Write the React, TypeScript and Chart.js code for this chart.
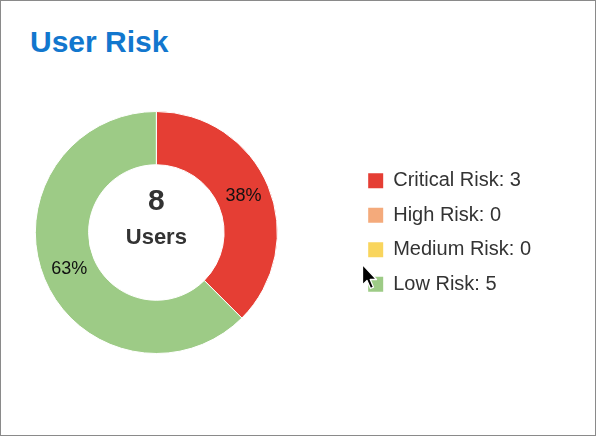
import React, { useEffect, useRef } from "react";
import { Chart, registerables } from "chart.js";
Chart.register(...registerables);

const titleText = "User Risk";
const categories = ["Critical Risk", "High Risk", "Medium Risk", "Low Risk"];
const userCounts = [3, 0, 0, 5];
const sliceColors = ["#E53E34", "#F4AA7B", "#F9D55D", "#9DCB86"];
const centerLabel = "Users";

const FONT = '"Liberation Sans", Arial, Helvetica, sans-serif';

export default function App() {
  const ref = useRef<HTMLCanvasElement>(null);

  useEffect(() => {
    if (!ref.current) return;
    const total = userCounts.reduce((a, b) => a + b, 0);

    const centerText = {
      id: "centerText",
      afterDatasetsDraw(chart: any) {
        const { ctx } = chart;
        const arc = chart.getDatasetMeta(0).data[0];
        if (!arc) return;
        const cx = arc.x;
        const cy = arc.y;
        ctx.save();
        ctx.fillStyle = "#333333";
        ctx.textAlign = "center";
        ctx.textBaseline = "middle";
        ctx.font = `bold 30px ${FONT}`;
        ctx.fillText(String(total), cx, cy - 31);
        ctx.font = `bold 22px ${FONT}`;
        ctx.fillText(centerLabel, cx, cy + 5);
        ctx.restore();
      },
    };

    const percentLabels = {
      id: "percentLabels",
      afterDatasetsDraw(chart: any) {
        const { ctx } = chart;
        const meta = chart.getDatasetMeta(0);
        ctx.save();
        ctx.fillStyle = "#111111";
        ctx.textAlign = "center";
        ctx.textBaseline = "middle";
        ctx.font = `18px ${FONT}`;
        meta.data.forEach((el: any, i: number) => {
          const v = userCounts[i];
          if (!v) return;
          const p = el.tooltipPosition();
          ctx.fillText(Math.round((v / total) * 100) + "%", p.x, p.y);
        });
        ctx.restore();
      },
    };

    const chart = new Chart(ref.current, {
      type: "doughnut",
      data: {
        labels: categories,
        datasets: [
          {
            data: userCounts,
            backgroundColor: sliceColors,
            borderColor: "#ffffff",
            borderWidth: 1,
          },
        ],
      },
      options: {
        responsive: false,
        animation: false,
        devicePixelRatio: 1,
        cutout: "56%",
        events: [],
        layout: { padding: { left: 0, right: 54, top: 110, bottom: 81 } },
        plugins: {
          tooltip: { enabled: false },
          title: { display: false },
          legend: {
            position: "right",
            labels: {
              boxWidth: 15,
              boxHeight: 15,
              padding: 14.5,
              color: "#333333",
              font: { size: 20, family: FONT },
              generateLabels: () =>
                categories.map((c, i) => ({
                  text: `${c}: ${userCounts[i]}`,
                  fillStyle: sliceColors[i],
                  strokeStyle: sliceColors[i],
                  lineWidth: 0,
                  hidden: false,
                  index: i,
                  fontColor: "#333333",
                })),
            },
          },
        },
      },
      plugins: [percentLabels, centerText],
    });
    return () => chart.destroy();
  }, []);

  return (
    <div
      style={{
        position: "fixed",
        left: 0,
        top: 0,
        width: 596,
        height: 436,
        boxSizing: "border-box",
        border: "1px solid #8a8a8a",
        background: "#ffffff",
        fontFamily: FONT,
        overflow: "hidden",
      }}
    >
      <div
        style={{
          position: "absolute",
          left: 29,
          top: 26,
          fontSize: 30,
          lineHeight: "30px",
          fontWeight: "bold",
          color: "#1277CE",
          whiteSpace: "nowrap",
        }}
      >
        {titleText}
      </div>
      <canvas
        ref={ref}
        width={636}
        height={434}
        style={{ position: "absolute", left: -42, top: 0, width: 636, height: 434 }}
      />
      <svg
        width={18}
        height={30}
        viewBox="0 0 18 30"
        style={{ position: "absolute", left: 360, top: 262, pointerEvents: "none" }}
      >
        <path
          d="M1.5 1.5 L1.5 22 L6 17.5 L9.5 25.5 L12.5 24.2 L9.2 16.5 L15.5 16.5 Z"
          fill="#000000"
          stroke="#ffffff"
          strokeWidth={1.3}
          strokeLinejoin="round"
        />
      </svg>
    </div>
  );
}
